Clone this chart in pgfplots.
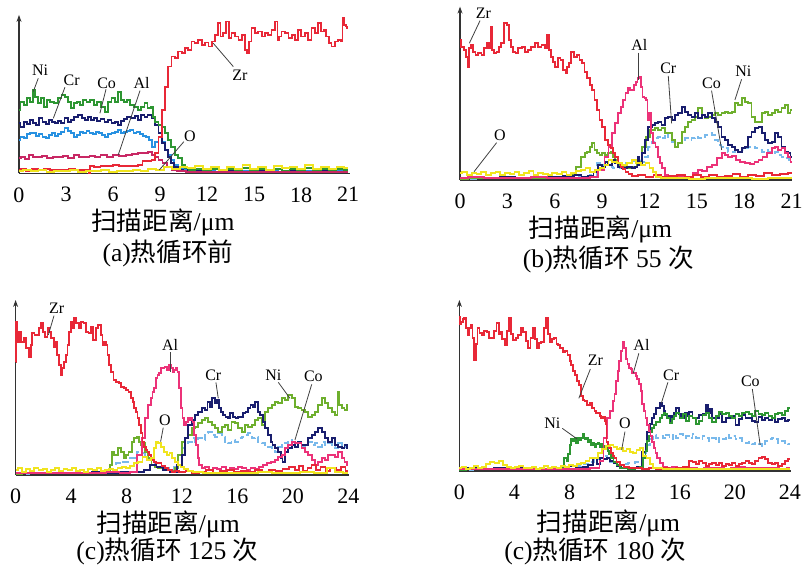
\documentclass[border=0pt]{standalone}
\usepackage{pgfplots}
\pgfplotsset{compat=1.18}
\usetikzlibrary{arrows.meta}
\usepackage{fontspec}
\setmainfont{Liberation Serif}
\newfontfamily\cjk{Noto Sans CJK SC}
\definecolor{cZr}{RGB}{232,40,55}
\definecolor{cAl}{RGB}{236,50,120}
\definecolor{cAlA}{RGB}{200,40,100}
\definecolor{cCr}{RGB}{25,30,110}
\definecolor{cCo}{RGB}{40,145,225}
\definecolor{cCoL}{RGB}{120,185,235}
\definecolor{cNi}{RGB}{45,150,50}
\definecolor{cNiL}{RGB}{110,175,45}
\definecolor{cO}{RGB}{240,228,30}
\pgfplotsset{
  eds/.style={
    scale only axis, axis lines=left, ymin=0, xmin=0,
    axis line style={line width=0.7pt, black!80},
    y axis line style={-{Stealth[length=3.5pt,width=2.5pt]}},
    x axis line style={-},
    ytick=\empty, major tick length=0pt,
    /pgf/number format/assume math mode=true,
    tick label style={font=\fontsize{11}{12}\selectfont},
    xticklabel style={yshift=-3.5pt},
    clip=false,
    every axis plot/.append style={line width=0.9pt, mark=none, const plot mark mid},
  },
}
\tikzset{
  elab/.style={font=\fontsize{8}{9}\selectfont, inner sep=0.5pt},
  elead/.style={line width=0.4pt, black!75},
  ecap/.style={font=\fontsize{12.8}{13}\selectfont, inner sep=0pt},
}
\begin{document}
\begin{tikzpicture}
\useasboundingbox (0,0) rectangle (401pt,284.5pt);
% ---------------- (a) ----------------
\begin{axis}[eds, at={(9.5pt,197.85pt)}, anchor=south west,
  width=165.4pt, height=79.2pt, xmax=21.1, ymax=475, xtick={0,3,...,21}]
\addplot[cCo] coordinates {(0,100) (0.2,110) (0.4,105) (0.6,118) (0.8,122) (1.0,120) (1.2,112) (1.4,118) (1.6,110) (1.8,105) (2.0,115) (2.2,120) (2.4,112) (2.6,118) (2.8,125) (3.0,135) (3.2,128) (3.4,120) (3.6,110) (3.8,115) (4.0,125) (4.2,120) (4.4,128) (4.6,122) (4.8,118) (5.0,125) (5.2,120) (5.4,115) (5.6,110) (5.8,118) (6.0,120) (6.2,125) (6.4,130) (6.6,120) (6.8,125) (7.0,128) (7.2,130) (7.4,120) (7.6,125) (7.8,118) (8.0,112) (8.2,110) (8.4,100) (8.6,80) (8.8,95) (9.0,110) (9.2,95) (9.4,70) (9.6,55) (9.8,40) (10.0,25) (10.3,15) (10.6,10) (11,6) (12,8) (13,5) (14,7) (15,6) (16,8) (17,5) (18,7) (19,6) (20,8) (21,6)};
\addplot[cCr] coordinates {(0,150) (0.2,140) (0.4,155) (0.6,148) (0.8,160) (1.0,150) (1.2,145) (1.4,165) (1.6,155) (1.8,148) (2.0,160) (2.2,155) (2.4,150) (2.6,158) (2.8,152) (3.0,165) (3.2,155) (3.4,160) (3.6,170) (3.9,175) (4.1,165) (4.3,160) (4.5,168) (4.7,160) (4.9,165) (5.1,158) (5.3,162) (5.6,155) (5.8,160) (6.0,150) (6.2,155) (6.4,145) (6.6,158) (6.8,162) (7.0,170) (7.3,165) (7.5,172) (7.7,160) (7.9,175) (8.1,168) (8.3,175) (8.6,165) (8.8,145) (9.0,120) (9.2,90) (9.4,70) (9.6,50) (9.8,30) (10.0,20) (10.3,10) (10.6,8) (11,10) (11.5,7) (12,9) (12.5,5) (13,8) (13.5,6) (14,9) (14.5,5) (15,8) (15.5,6) (16,9) (16.5,5) (17,8) (17.5,6) (18,9) (18.5,5) (19,8) (19.5,6) (20,9) (20.5,5) (21,8)};
\addplot[cNi] coordinates {(0,190) (0.2,215) (0.4,205) (0.6,225) (0.8,215) (0.95,250) (1.1,230) (1.3,210) (1.5,225) (1.7,200) (1.9,220) (2.1,215) (2.4,210) (2.6,225) (2.83,235) (3.0,230) (3.2,215) (3.4,195) (3.6,210) (3.8,215) (4.0,205) (4.2,220) (4.4,215) (4.7,220) (4.9,205) (5.1,215) (5.4,200) (5.6,185) (5.8,215) (6.0,225) (6.2,215) (6.44,245) (6.6,220) (6.8,215) (7.0,220) (7.2,205) (7.5,200) (7.7,190) (7.9,200) (8.1,210) (8.3,195) (8.5,200) (8.6,170) (8.8,155) (9.0,145) (9.2,140) (9.4,120) (9.6,100) (9.84,80) (10.05,55) (10.27,45) (10.48,25) (10.7,15) (11.0,10) (11.5,14) (12,8) (12.5,12) (13,9) (13.5,14) (14,10) (14.5,16) (15,9) (15.5,13) (16,10) (16.5,14) (17,8) (17.5,12) (18,10) (18.5,15) (19,9) (19.5,13) (20,10) (20.5,14) (21,11)};
\addplot[cAlA] coordinates {(0,45) (0.3,48) (0.5,42) (0.8,55) (1.0,50) (1.3,48) (1.6,52) (2.0,45) (2.3,50) (2.6,48) (3.0,52) (3.3,45) (3.7,55) (4.0,50) (4.3,48) (4.7,52) (5.0,50) (5.4,56) (5.8,50) (6.2,54) (6.6,52) (7.0,55) (7.4,58) (7.8,60) (8.1,62) (8.4,65) (8.6,55) (8.8,50) (9.0,40) (9.3,30) (9.6,18) (9.9,10) (10.3,6) (11,5) (12,4) (14,5) (16,4) (18,5) (21,4)};
\addplot[cZr] coordinates {(0,10) (0.3,12) (0.6,8) (1.0,12) (1.4,9) (1.8,12) (2.2,10) (2.6,11) (3.0,9) (3.4,12) (3.8,10) (4.2,11) (4.45,10) (4.5,0) (4.6,22) (5.0,20) (5.4,23) (5.8,21) (6.2,24) (6.6,22) (7.0,23) (7.4,21) (7.8,24) (7.95,38) (8.3,36) (8.6,40) (8.8,60) (9.0,110) (9.2,190) (9.4,260) (9.6,320) (9.85,350) (10.05,345) (10.27,365) (10.5,360) (10.7,375) (10.9,370) (11.1,395) (11.3,390) (11.55,400) (11.75,385) (11.97,392) (12.2,380) (12.39,395) (12.6,415) (12.8,450) (12.9,410) (13.1,420) (13.3,455) (13.45,405) (13.67,420) (13.9,410) (14.1,400) (14.3,415) (14.52,370) (14.6,360) (14.73,395) (14.94,435) (15.15,420) (15.37,425) (15.58,410) (15.79,420) (16.0,415) (16.22,430) (16.43,455) (16.55,400) (16.64,410) (16.85,425) (17.07,420) (17.3,405) (17.49,415) (17.7,400) (17.92,430) (18.1,410) (18.34,420) (18.55,400) (18.77,435) (18.98,420) (19.19,450) (19.35,425) (19.51,430) (19.7,410) (19.83,390) (20.04,380) (20.25,395) (20.47,400) (20.6,395) (20.68,465) (20.8,445) (20.89,440) (21.0,435)};
\addplot[cO] coordinates {(0,8) (0.5,10) (1,6) (1.5,9) (2,5) (2.5,8) (3,6) (3.5,10) (4,5) (4.5,8) (5,6) (5.5,9) (6,5) (6.5,8) (7,6) (7.5,10) (8,7) (8.5,12) (9,10) (9.5,18) (10,14) (10.5,20) (11,15) (11.5,22) (12,12) (12.5,18) (13,10) (13.5,20) (14,14) (14.5,25) (15,12) (15.5,18) (16,10) (16.5,22) (17,15) (17.5,20) (18,12) (18.5,25) (19,14) (19.5,20) (20,12) (20.5,18) (21,15)};
\node[elab] at (axis cs:1.34,310) {Ni}; \draw[elead] (axis cs:1.23,285) -- (axis cs:0.91,245);
\node[elab] at (axis cs:3.36,280) {Cr}; \draw[elead] (axis cs:2.93,258) -- (axis cs:2.19,165);
\node[elab] at (axis cs:5.59,270) {Co}; \draw[elead] (axis cs:5.55,252) -- (axis cs:5.16,180);
\node[elab] at (axis cs:7.82,270) {Al}; \draw[elead] (axis cs:7.72,248) -- (axis cs:6.33,55);
\node[elab] at (axis cs:10.9,110) {O}; \draw[elead] (axis cs:10.52,95) -- (axis cs:8.95,10);
\node[elab] at (axis cs:14.09,295) {Zr}; \draw[elead] (axis cs:13.67,320) -- (axis cs:12.39,390);
\node[ecap] at (axis cs:9.18,-146) {{\cjk 扫描距离}/μm};
\node[ecap] at (axis cs:9.5,-239) {(a){\cjk 热循环前}};
\end{axis}
% ---------------- (b) ----------------
\begin{axis}[eds, at={(230pt,194.5pt)}, anchor=south west,
  width=166.2pt, height=86.7pt, xmax=21.05, ymax=520, xtick={0,3,...,21}]
\addplot[cCoL, densely dashed] coordinates {(0,4) (2,6) (4,5) (6,7) (8,8) (8.5,15) (8.86,50) (9.1,45) (9.5,40) (9.92,35) (10.3,40) (10.76,50) (11.0,58) (11.3,60) (11.6,55) (11.82,70) (12.03,100) (12.24,115) (12.45,125) (12.66,130) (12.87,125) (13.09,140) (13.3,120) (13.51,115) (13.72,110) (13.93,110) (14.14,115) (14.35,125) (14.56,120) (14.77,125) (14.99,130) (15.2,125) (15.41,130) (15.62,135) (15.83,140) (16.04,135) (16.25,120) (16.46,105) (16.67,100) (16.88,95) (17.1,85) (17.31,85) (17.52,90) (17.73,85) (17.94,90) (18.15,95) (18.36,100) (18.57,100) (18.8,95) (19.0,90) (19.21,85) (19.42,90) (19.63,85) (19.84,80) (20.05,85) (20.26,75) (20.47,70) (20.68,65) (21.0,55)};
\addplot[cNiL] coordinates {(0,4) (1,6) (2,5) (3,7) (4,5) (5,6) (6,8) (6.8,10) (7.2,15) (7.5,40) (7.81,70) (8.0,80) (8.13,85) (8.3,100) (8.44,110) (8.6,90) (8.76,80) (8.9,75) (9.08,80) (9.29,75) (9.5,80) (9.60,85) (9.75,70) (9.92,60) (10.13,45) (10.4,40) (10.76,35) (11.0,40) (11.4,55) (11.61,100) (11.9,130) (12.2,150) (12.45,155) (12.66,150) (12.87,155) (13.09,140) (13.30,140) (13.51,120) (13.72,100) (13.93,110) (14.14,145) (14.35,160) (14.56,175) (14.77,180) (14.99,190) (15.2,215) (15.41,195) (15.62,185) (15.83,190) (16.04,195) (16.25,200) (16.46,195) (16.67,200) (16.88,205) (17.1,200) (17.31,205) (17.52,230) (17.73,225) (17.94,245) (18.15,235) (18.36,230) (18.57,190) (18.8,175) (19.0,175) (19.21,200) (19.42,205) (19.63,195) (19.84,200) (20.05,210) (20.26,205) (20.47,215) (20.68,225) (20.85,200) (21.0,210)};
\addplot[cCr] coordinates {(0,5) (1,8) (2,6) (3,9) (4,7) (5,10) (6,8) (7,12) (7.5,15) (7.9,10) (8.3,12) (8.6,25) (8.86,45) (9.1,40) (9.29,55) (9.5,45) (9.7,60) (9.92,50) (10.13,40) (10.4,35) (10.76,38) (11.0,36) (11.2,40) (11.29,70) (11.4,45) (11.61,80) (11.82,120) (12.03,160) (12.24,165) (12.45,170) (12.66,175) (12.87,165) (13.09,185) (13.30,190) (13.51,180) (13.72,195) (13.93,200) (14.14,220) (14.35,205) (14.56,195) (14.77,190) (14.99,200) (15.2,185) (15.41,195) (15.62,190) (15.83,200) (16.04,185) (16.25,175) (16.46,160) (16.67,130) (16.88,120) (17.1,105) (17.31,100) (17.52,90) (17.73,85) (17.94,95) (18.15,100) (18.36,130) (18.57,145) (18.8,155) (19.0,160) (19.21,140) (19.42,120) (19.63,110) (19.84,115) (20.05,140) (20.26,130) (20.47,100) (20.68,85) (20.85,80) (21.0,70)};
\addplot[cAl] coordinates {(0,6) (1,8) (2,5) (3,7) (4,6) (5,8) (6,5) (7,7) (8,6) (8.5,10) (9.0,30) (9.3,70) (9.5,100) (9.7,140) (9.92,170) (10.1,200) (10.24,220) (10.4,240) (10.55,260) (10.7,275) (10.85,270) (10.98,270) (11.1,285) (11.19,295) (11.3,305) (11.4,310) (11.5,280) (11.61,250) (11.75,245) (11.82,240) (11.92,180) (12.03,200) (12.14,140) (12.3,110) (12.45,100) (12.6,70) (12.75,50) (12.87,35) (13.09,15) (13.3,10) (13.7,12) (14.2,8) (14.6,10) (14.9,20) (15.2,30) (15.5,28) (15.8,40) (16.1,45) (16.46,65) (16.7,80) (16.88,75) (17.1,70) (17.31,72) (17.6,60) (17.9,55) (18.2,50) (18.5,48) (18.8,55) (19.0,60) (19.3,70) (19.63,80) (19.84,95) (20.05,100) (20.26,90) (20.47,95) (20.68,80) (20.85,70) (21.0,55)};
\addplot[cZr] coordinates {(0,420) (0.15,400) (0.32,390) (0.45,370) (0.53,340) (0.64,395) (0.74,405) (0.9,385) (1.06,375) (1.25,380) (1.48,375) (1.6,395) (1.79,410) (1.9,395) (2.0,460) (2.1,390) (2.22,380) (2.4,385) (2.53,400) (2.7,410) (2.85,470) (3.06,465) (3.15,420) (3.27,400) (3.45,385) (3.59,380) (3.8,395) (4.01,400) (4.2,385) (4.43,390) (4.6,400) (4.85,410) (5.05,400) (5.28,405) (5.45,395) (5.59,435) (5.7,390) (5.8,370) (5.95,355) (6.12,340) (6.3,365) (6.44,360) (6.6,330) (6.75,320) (6.85,340) (6.96,350) (7.08,385) (7.18,385) (7.3,370) (7.49,375) (7.65,360) (7.81,350) (7.95,325) (8.13,305) (8.3,285) (8.44,270) (8.6,240) (8.76,210) (8.9,180) (9.08,160) (9.29,120) (9.45,105) (9.60,95) (9.75,80) (9.92,70) (10.13,50) (10.24,40) (10.4,32) (10.55,25) (10.8,18) (11.0,12) (11.5,15) (12,10) (12.5,14) (13,8) (13.5,12) (14,15) (14.5,8) (15,14) (15.5,10) (16,16) (16.5,8) (17,12) (17.5,18) (18,10) (18.5,15) (19,12) (19.5,20) (20,14) (20.5,18) (21,20)};
\addplot[cO] coordinates {(0,20) (0.3,25) (0.6,15) (0.9,22) (1.2,18) (1.5,25) (1.8,15) (2.1,20) (2.4,24) (2.7,14) (3.0,22) (3.3,18) (3.6,25) (3.9,15) (4.2,20) (4.5,26) (4.8,15) (5.1,22) (5.4,18) (5.7,14) (6.0,22) (6.3,18) (6.6,25) (6.9,15) (7.2,20) (7.5,28) (7.8,30) (8.1,35) (8.4,25) (8.7,30) (9.0,35) (9.3,45) (9.5,60) (9.8,55) (10.1,50) (10.4,45) (10.76,50) (11.0,60) (11.3,52) (11.6,45) (11.9,50) (12.1,35) (12.3,25) (12.5,10) (13,5) (14,6) (15,4) (16,6) (17,5) (18,6) (19,4) (20,6) (21,5)};
\node[elab] at (axis cs:1.48,500) {Zr}; \draw[elead] (axis cs:1.27,478) -- (axis cs:0.59,410);
\node[elab] at (axis cs:11.36,405) {Al}; \draw[elead] (axis cs:11.29,382) -- (axis cs:11.29,300);
\node[elab] at (axis cs:13.19,335) {Cr}; \draw[elead] (axis cs:13.19,312) -- (axis cs:13.4,170);
\node[elab] at (axis cs:15.93,290) {Co}; \draw[elead] (axis cs:15.93,268) -- (axis cs:16.57,90);
\node[elab] at (axis cs:17.94,325) {Ni}; \draw[elead] (axis cs:17.83,302) -- (axis cs:17.41,240);
\node[elab] at (axis cs:2.53,135) {O}; \draw[elead] (axis cs:2.32,112) -- (axis cs:0.89,25);
\node[ecap] at (axis cs:8.9,-148) {{\cjk 扫描距离}/μm};
\node[ecap] at (axis cs:9.39,-238) {(b){\cjk 热循环} 55 {\cjk 次}};
\end{axis}
% ---------------- (c) ----------------
\begin{axis}[eds, at={(7.8pt,47pt)}, anchor=south west,
  width=166.7pt, height=87.5pt, xmax=24.05, ymax=525, xtick={0,4,...,24}]
\addplot[cCoL, densely dashed] coordinates {(0,4) (2,6) (4,5) (6,6) (7,10) (7.5,35) (8.0,40) (8.5,50) (8.97,70) (9.21,65) (9.45,55) (9.69,45) (9.93,40) (10.2,30) (10.5,25) (10.89,20) (11.3,15) (11.6,25) (11.86,60) (12.1,80) (12.34,90) (12.58,100) (12.82,110) (13.06,100) (13.3,110) (13.54,105) (13.78,125) (14.02,130) (14.26,120) (14.5,115) (14.74,125) (14.98,115) (15.22,100) (15.46,95) (15.7,105) (15.95,100) (16.19,110) (16.43,115) (16.67,120) (16.91,125) (17.15,110) (17.39,115) (17.63,100) (17.87,95) (18.11,90) (18.35,85) (18.59,80) (18.83,70) (19.07,85) (19.31,90) (19.55,95) (19.79,105) (20.03,100) (20.27,95) (20.51,100) (20.75,85) (21.0,95) (21.24,100) (21.48,90) (21.72,95) (21.96,85) (22.2,100) (22.44,90) (22.68,95) (22.92,85) (23.16,80) (23.4,95) (23.64,85) (24.0,90)};
\addplot[cNiL] coordinates {(0,4) (1,6) (2,5) (3,7) (4,5) (5,6) (6,5) (6.7,8) (6.9,30) (7.05,70) (7.2,60) (7.53,80) (7.7,70) (7.89,50) (8.05,60) (8.25,70) (8.49,100) (8.61,110) (8.85,115) (8.97,100) (9.1,90) (9.21,95) (9.45,70) (9.69,50) (9.93,30) (10.17,25) (10.41,20) (10.89,15) (11.38,12) (11.62,20) (11.86,60) (12.1,100) (12.34,110) (12.58,120) (12.82,140) (13.06,145) (13.3,155) (13.54,165) (13.78,170) (14.02,160) (14.26,150) (14.5,140) (14.74,130) (14.98,145) (15.22,150) (15.46,135) (15.7,160) (15.95,155) (16.19,140) (16.43,130) (16.67,150) (16.91,145) (17.15,150) (17.39,165) (17.63,170) (17.87,150) (18.11,190) (18.35,200) (18.59,210) (18.83,220) (19.07,215) (19.31,230) (19.55,225) (19.79,240) (20.03,230) (20.27,205) (20.51,200) (20.75,195) (21.0,190) (21.24,175) (21.48,180) (21.72,190) (21.96,210) (22.2,230) (22.44,215) (22.68,200) (22.92,190) (23.16,180) (23.28,250) (23.4,210) (23.64,200) (23.82,195) (24.0,210)};
\addplot[cCr] coordinates {(0,5) (1,7) (2,6) (3,5) (4,7) (5,6) (6,8) (7,6) (8,8) (9,10) (9.5,15) (9.93,30) (10.41,25) (10.89,15) (11.38,10) (11.86,30) (12.1,60) (12.34,110) (12.58,150) (12.82,165) (13.06,180) (13.3,190) (13.54,200) (13.78,195) (13.9,220) (14.1,205) (14.26,230) (14.45,215) (14.62,225) (14.74,200) (14.86,190) (15.05,180) (15.22,175) (15.4,170) (15.58,185) (15.76,175) (15.95,170) (16.19,175) (16.31,175) (16.5,185) (16.67,190) (16.85,200) (17.03,210) (17.2,205) (17.39,220) (17.55,190) (17.75,180) (17.9,160) (18.11,140) (18.35,120) (18.47,100) (18.6,90) (18.83,80) (19.07,70) (19.19,50) (19.31,40) (19.55,70) (19.79,80) (20.03,90) (20.27,85) (20.51,100) (20.75,90) (21.0,90) (21.24,110) (21.48,120) (21.72,130) (21.96,140) (22.2,130) (22.44,110) (22.68,100) (22.92,110) (23.16,90) (23.4,85) (23.64,80) (23.8,90) (24.0,80)};
\addplot[cAl] coordinates {(0,5) (1,7) (2,5) (3,6) (4,5) (5,7) (6,6) (7,8) (8,6) (8.5,10) (8.97,60) (9.21,110) (9.45,170) (9.69,210) (9.81,230) (9.93,250) (10.05,260) (10.17,290) (10.29,300) (10.41,305) (10.6,320) (10.89,325) (11.0,315) (11.14,330) (11.3,320) (11.38,310) (11.5,315) (11.62,320) (11.74,310) (11.86,260) (11.98,200) (12.1,170) (12.22,150) (12.34,160) (12.5,170) (12.58,165) (12.7,170) (12.82,160) (12.94,120) (13.06,90) (13.2,50) (13.3,30) (13.54,20) (13.8,25) (14.1,15) (14.4,22) (14.7,18) (15.0,25) (15.3,15) (15.6,20) (15.9,18) (16.2,25) (16.5,20) (16.8,15) (17.1,22) (17.4,18) (17.7,25) (18.0,30) (18.3,35) (18.59,40) (18.83,45) (19.07,55) (19.31,60) (19.55,80) (19.79,90) (20.03,100) (20.27,95) (20.51,95) (20.75,80) (21.0,70) (21.24,60) (21.48,45) (21.72,30) (21.96,40) (22.2,50) (22.44,45) (22.68,60) (22.92,60) (23.16,55) (23.4,70) (23.64,50) (23.8,40) (24.0,30)};
\addplot[cZr] coordinates {(0,340) (0.07,460) (0.15,400) (0.31,430) (0.5,400) (0.67,410) (0.85,380) (1.03,355) (1.15,390) (1.27,425) (1.45,420) (1.64,420) (1.75,440) (1.88,455) (2.05,430) (2.24,415) (2.36,440) (2.48,430) (2.65,410) (2.84,385) (2.95,400) (3.08,360) (3.2,330) (3.32,300) (3.45,320) (3.56,340) (3.68,360) (3.80,390) (3.92,430) (4.04,460) (4.16,440) (4.28,470) (4.45,455) (4.64,440) (4.8,460) (5.0,455) (5.15,430) (5.36,425) (5.5,445) (5.72,405) (5.85,440) (6.08,450) (6.2,420) (6.33,390) (6.45,400) (6.57,390) (6.7,360) (6.81,330) (6.95,310) (7.17,285) (7.35,280) (7.53,275) (7.7,265) (7.89,260) (8.05,255) (8.25,250) (8.4,230) (8.49,220) (8.6,200) (8.73,190) (8.85,170) (8.97,150) (9.1,125) (9.21,100) (9.35,85) (9.45,75) (9.57,70) (9.69,60) (9.81,50) (9.93,45) (10.05,40) (10.2,35) (10.41,35) (10.65,28) (10.89,20) (11.14,15) (11.38,10) (11.6,12) (12,8) (12.5,12) (13,6) (13.5,10) (14,14) (14.5,7) (15,11) (15.5,15) (16,8) (16.5,12) (17,9) (17.5,14) (18,10) (18.5,16) (19,12) (19.5,18) (20,25) (20.3,15) (20.6,28) (20.9,12) (21.2,20) (21.5,30) (21.8,15) (22.2,25) (22.5,12) (22.9,20) (23.3,15) (23.6,25) (24,12)};
\addplot[cO] coordinates {(0,15) (0.3,20) (0.6,10) (0.9,18) (1.2,12) (1.5,22) (1.8,14) (2.1,18) (2.4,10) (2.7,16) (3.0,20) (3.3,12) (3.6,18) (3.9,14) (4.2,20) (4.5,12) (4.8,16) (5.1,10) (5.4,18) (5.7,14) (6.0,20) (6.3,12) (6.6,16) (6.9,18) (7.2,14) (7.5,20) (7.8,25) (8.1,20) (8.4,28) (8.7,35) (9.0,40) (9.3,55) (9.6,45) (9.9,50) (10.05,80) (10.2,100) (10.4,95) (10.6,85) (10.8,70) (11.0,60) (11.2,65) (11.4,50) (11.6,40) (11.8,30) (12.0,25) (12.3,18) (12.6,12) (13,8) (14,5) (15,7) (16,5) (17,6) (18,8) (19,5) (20,7) (21,10) (22,6) (22.9,20) (23.2,8) (24,5)};
\node[elab] at (axis cs:2.96,500) {Zr}; \draw[elead] (axis cs:2.77,478) -- (axis cs:2.36,420);
\node[elab] at (axis cs:11.14,390) {Al}; \draw[elead] (axis cs:11.14,368) -- (axis cs:11.14,308);
\node[elab] at (axis cs:10.77,165) {O}; \draw[elead] (axis cs:10.65,142) -- (axis cs:10.46,100);
\node[elab] at (axis cs:14.26,300) {Cr}; \draw[elead] (axis cs:14.45,278) -- (axis cs:14.62,230);
\node[elab] at (axis cs:18.59,300) {Ni}; \draw[elead] (axis cs:18.95,278) -- (axis cs:19.79,230);
\node[elab] at (axis cs:21.48,295) {Co}; \draw[elead] (axis cs:21.36,272) -- (axis cs:20.15,105);
\node[ecap] at (axis cs:11.0,-148) {{\cjk 扫描距离}/μm};
\node[ecap] at (axis cs:10.95,-230) {(c){\cjk 热循环} 125 {\cjk 次}};
\end{axis}
% ---------------- (d) ----------------
\begin{axis}[eds, at={(229.7pt,49pt)}, anchor=south west,
  width=165.6pt, height=85.5pt, xmax=24.05, ymax=513, xtick={0,4,...,24}]
\addplot[cCoL, densely dashed] coordinates {(0,4) (2,5) (4,6) (6,5) (7.5,8) (8.5,15) (9.15,20) (9.63,28) (9.99,35) (10.35,40) (10.59,45) (10.83,35) (11.07,28) (11.31,22) (11.66,18) (12.02,20) (12.5,25) (12.98,28) (13.22,30) (13.46,55) (13.7,78) (13.94,95) (14.18,108) (14.42,100) (14.66,105) (14.9,98) (15.14,108) (15.38,95) (15.62,110) (15.86,100) (16.1,112) (16.34,100) (16.57,105) (16.81,98) (17.05,110) (17.29,100) (17.53,95) (17.77,105) (18.01,100) (18.25,90) (18.49,98) (18.73,88) (18.97,100) (19.21,95) (19.45,108) (19.69,100) (19.93,105) (20.17,95) (20.41,98) (20.65,90) (20.9,85) (21.13,88) (21.37,80) (21.6,85) (21.84,80) (22.08,75) (22.32,90) (22.56,95) (22.8,100) (23.04,95) (23.28,85) (23.52,90) (23.76,85) (24.0,80)};
\addplot[cCr] coordinates {(0,5) (1,8) (2,6) (3,9) (4,6) (5,8) (6,7) (7,9) (7.71,12) (8.2,15) (8.79,10) (9.15,13) (9.5,18) (9.87,38) (10.11,20) (10.35,38) (10.59,35) (10.83,40) (11.07,30) (11.31,25) (11.6,15) (11.9,10) (12.26,8) (12.74,8) (13.1,12) (13.46,58) (13.58,80) (13.7,118) (13.94,140) (14.06,158) (14.18,170) (14.42,188) (14.66,203) (14.78,195) (14.9,180) (15.02,168) (15.14,158) (15.26,165) (15.38,150) (15.5,165) (15.62,175) (15.86,188) (16.0,170) (16.1,158) (16.22,170) (16.34,160) (16.45,175) (16.57,165) (16.81,178) (17.05,158) (17.29,158) (17.53,168) (17.77,170) (18.01,198) (18.13,175) (18.25,185) (18.49,160) (18.73,158) (18.97,170) (19.21,148) (19.45,160) (19.69,158) (19.93,165) (20.17,138) (20.41,155) (20.65,168) (20.9,160) (21.13,158) (21.37,150) (21.6,148) (21.84,163) (22.08,153) (22.32,160) (22.56,153) (22.8,158) (23.04,148) (23.28,155) (23.52,158) (23.76,150) (24.0,153)};
\addplot[cNi] coordinates {(0,4) (1,6) (2,5) (3,7) (4,5) (5,6) (6,5) (7,7) (7.5,10) (7.71,38) (7.83,30) (7.95,50) (8.07,78) (8.19,95) (8.31,90) (8.43,98) (8.55,85) (8.67,98) (8.79,93) (8.91,100) (9.03,110) (9.15,95) (9.27,100) (9.39,88) (9.51,92) (9.63,78) (9.75,85) (9.87,73) (9.99,80) (10.11,85) (10.23,72) (10.35,80) (10.47,68) (10.59,75) (10.71,68) (10.83,60) (10.95,50) (11.07,40) (11.31,28) (11.54,18) (11.78,10) (12.02,8) (12.5,6) (12.98,8) (13.22,12) (13.46,40) (13.58,60) (13.7,90) (13.82,105) (13.94,118) (14.06,128) (14.18,138) (14.42,148) (14.66,160) (14.78,168) (14.9,175) (15.02,170) (15.14,158) (15.38,145) (15.5,155) (15.62,165) (15.86,175) (16.1,158) (16.34,170) (16.57,150) (16.81,165) (17.05,160) (17.29,140) (17.53,150) (17.77,168) (18.01,175) (18.25,160) (18.49,148) (18.73,165) (18.97,178) (19.21,170) (19.45,175) (19.69,165) (19.93,160) (20.17,170) (20.41,165) (20.65,175) (20.9,178) (21.13,170) (21.37,165) (21.6,180) (21.84,172) (22.08,168) (22.32,175) (22.56,165) (22.8,160) (23.04,170) (23.28,175) (23.52,168) (23.76,180) (24.0,188)};
\addplot[cAl] coordinates {(0,5) (2,7) (4,5) (6,6) (8,5) (9,7) (10,8) (10.35,30) (10.59,100) (10.83,160) (11.07,180) (11.2,210) (11.31,230) (11.45,270) (11.54,300) (11.66,330) (11.78,360) (11.9,388) (12.02,370) (12.14,335) (12.26,320) (12.38,310) (12.5,305) (12.62,295) (12.74,293) (12.86,285) (12.98,275) (13.1,260) (13.22,240) (13.34,200) (13.46,180) (13.58,160) (13.7,138) (13.82,120) (13.94,105) (14.06,88) (14.18,70) (14.3,55) (14.42,38) (14.66,25) (14.9,13) (15.2,10) (15.6,12) (16.0,8) (16.3,10) (16.6,7) (17.0,10) (17.5,7) (18,10) (18.5,8) (19,10) (19.5,7) (20,9) (20.5,11) (21,8) (21.5,10) (22,9) (22.5,8) (23,10) (23.5,7) (24,9)};
\addplot[cZr] coordinates {(0,463) (0.08,440) (0.17,448) (0.3,455) (0.41,458) (0.53,430) (0.65,408) (0.77,430) (0.89,438) (1.0,400) (1.13,333) (1.25,380) (1.37,428) (1.55,415) (1.72,408) (1.9,420) (2.08,418) (2.25,400) (2.44,398) (2.6,420) (2.80,443) (2.92,410) (3.04,418) (3.2,395) (3.40,378) (3.52,420) (3.64,458) (3.8,410) (4.0,393) (4.18,400) (4.36,408) (4.55,430) (4.72,418) (4.9,390) (5.08,368) (5.25,400) (5.44,428) (5.56,395) (5.68,368) (5.85,385) (6.04,388) (6.2,430) (6.40,458) (6.5,410) (6.63,388) (6.8,395) (6.99,398) (7.1,380) (7.23,378) (7.4,370) (7.59,358) (7.75,360) (7.95,348) (8.07,330) (8.19,318) (8.3,300) (8.43,288) (8.6,270) (8.79,258) (8.9,225) (9.03,213) (9.15,210) (9.39,198) (9.55,205) (9.75,188) (9.87,180) (10.0,175) (10.11,173) (10.25,165) (10.35,158) (10.5,163) (10.59,150) (10.65,140) (10.71,88) (10.83,75) (10.95,68) (11.07,55) (11.2,45) (11.31,38) (11.5,28) (11.78,18) (12.1,12) (12.5,8) (13,10) (13.5,6) (14,9) (14.5,5) (15,8) (15.5,6) (16,9) (16.5,12) (16.81,30) (17.05,28) (17.3,20) (17.53,30) (17.77,25) (18.0,15) (18.25,20) (18.49,25) (18.73,18) (18.97,25) (19.21,15) (19.45,22) (19.69,18) (19.93,25) (20.17,15) (20.41,20) (20.65,25) (20.9,30) (21.13,25) (21.37,20) (21.6,30) (21.84,40) (22.08,43) (22.3,35) (22.56,25) (22.8,20) (23.04,25) (23.28,15) (23.52,20) (23.76,30) (24.0,35)};
\addplot[cO] coordinates {(0,8) (0.3,12) (0.6,5) (0.9,10) (1.2,15) (1.5,8) (1.8,12) (2.1,20) (2.4,28) (2.7,25) (3.0,30) (3.3,18) (3.6,12) (3.9,8) (4.2,12) (4.5,15) (4.8,10) (5.1,8) (5.4,12) (5.7,6) (6.0,10) (6.3,14) (6.6,8) (6.9,12) (7.2,10) (7.5,15) (7.8,12) (8.1,18) (8.4,15) (8.7,22) (9.0,25) (9.3,30) (9.6,38) (9.9,40) (10.2,55) (10.5,65) (10.8,75) (11.07,78) (11.31,72) (11.54,65) (11.78,68) (12.02,60) (12.26,65) (12.5,58) (12.74,55) (12.98,63) (13.22,68) (13.46,45) (13.7,38) (13.94,20) (14.2,10) (14.5,8) (15,5) (16,7) (17,5) (18,6) (19,5) (20,7) (21,5) (22,6) (23,5) (24,6)};
\node[elab] at (axis cs:9.87,333) {Zr}; \draw[elead] (axis cs:9.51,306) -- (axis cs:8.67,218);
\node[elab] at (axis cs:13.22,378) {Al}; \draw[elead] (axis cs:13.03,353) -- (axis cs:12.62,293);
\node[elab] at (axis cs:15.38,288) {Cr}; \draw[elead] (axis cs:15.14,266) -- (axis cs:14.66,203);
\node[elab] at (axis cs:21.13,268) {Co}; \draw[elead] (axis cs:21.27,246) -- (axis cs:21.84,78);
\node[elab] at (axis cs:6.75,143) {Ni}; \draw[elead] (axis cs:7.47,128) -- (axis cs:8.55,96);
\node[elab] at (axis cs:12.02,143) {O}; \draw[elead] (axis cs:12.02,118) -- (axis cs:11.78,63);
\node[ecap] at (axis cs:10.83,-157) {{\cjk 扫描距离}/μm};
\node[ecap] at (axis cs:9.87,-242) {(c){\cjk 热循环} 180 {\cjk 次}};
\end{axis}
\end{tikzpicture}
\end{document}
